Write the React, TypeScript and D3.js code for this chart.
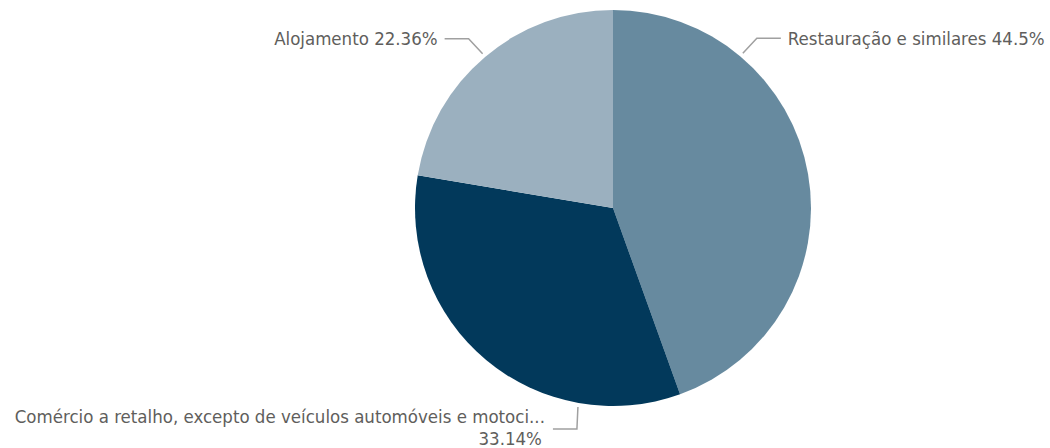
import * as d3 from "d3";

const CATEGORIES = [
  "Restauração e similares",
  "Comércio a retalho, excepto de veículos automóveis e motoci...",
  "Alojamento",
];
const VALUES = [44.5, 33.14, 22.36];
const LABELS = ["44.5%", "33.14%", "22.36%"];
const COLORS = ["#678a9f", "#02395b", "#9bb0bf"];
// angle (degrees, clockwise from top) where each leader line touches the pie
const LABEL_ANGLES = [40, 190, 319.8];

const WIDTH = 1050;
const HEIGHT = 448;
const CX = 613;
const CY = 208;
const R = 198;

export default function App() {
  const pie = d3
    .pie<number>()
    .sort(null)
    .value((d) => d);
  const arcs = pie(VALUES);
  const arcGen = d3.arc<d3.PieArcDatum<number>>().innerRadius(0).outerRadius(R);

  const pt = (deg: number, r: number) => {
    const a = (deg * Math.PI) / 180;
    return [CX + r * Math.sin(a), CY - r * Math.cos(a)];
  };

  const font = "'DejaVu Sans Condensed', 'Roboto', sans-serif";
  const fontSize = 18.5;
  const textColor = "#605e5c";

  const [p0x, p0y] = pt(LABEL_ANGLES[0], R + 4);
  const [p2x, p2y] = pt(LABEL_ANGLES[2], R + 4);
  const [p1x, p1y] = pt(LABEL_ANGLES[1], R + 4);

  return (
    <svg
      width={WIDTH}
      height={HEIGHT}
      style={{ position: "absolute", left: 0, top: 0 }}
    >
      <g transform={`translate(${CX},${CY})`}>
        {arcs.map((a, i) => (
          <path key={i} d={arcGen(a) || ""} fill={COLORS[i]} />
        ))}
      </g>
      {/* Restauração */}
      <polyline
        points={`${p0x},${p0y} ${p0x + 14},${p0y - 15} ${p0x + 38},${p0y - 15}`}
        fill="none"
        stroke="#a0a0a0"
        strokeWidth={1.5}
      />
      <text
        x={p0x + 45}
        y={p0y - 15}
        dy="0.35em"
        fontFamily={font}
        fontSize={fontSize}
        fill={textColor}
      >
        {`${CATEGORIES[0]} ${LABELS[0]}`}
      </text>
      {/* Alojamento */}
      <polyline
        points={`${p2x},${p2y} ${p2x - 14},${p2y - 15} ${p2x - 38},${p2y - 15}`}
        fill="none"
        stroke="#a0a0a0"
        strokeWidth={1.5}
      />
      <text
        x={p2x - 45}
        y={p2y - 15}
        dy="0.35em"
        textAnchor="end"
        fontFamily={font}
        fontSize={fontSize}
        fill={textColor}
      >
        {`${CATEGORIES[2]} ${LABELS[2]}`}
      </text>
      {/* Comércio */}
      <polyline
        points={`${p1x},${p1y} ${p1x - 1},${p1y + 22} ${p1x - 25},${p1y + 22}`}
        fill="none"
        stroke="#a0a0a0"
        strokeWidth={1.5}
      />
      <text
        x={p1x - 33}
        y={p1y + 16}
        textAnchor="end"
        fontFamily={font}
        fontSize={fontSize}
        fill={textColor}
      >
        <tspan x={p1x - 33}>{CATEGORIES[1]}</tspan>
        <tspan x={p1x - 36} dy={22}>
          {LABELS[1]}
        </tspan>
      </text>
    </svg>
  );
}
